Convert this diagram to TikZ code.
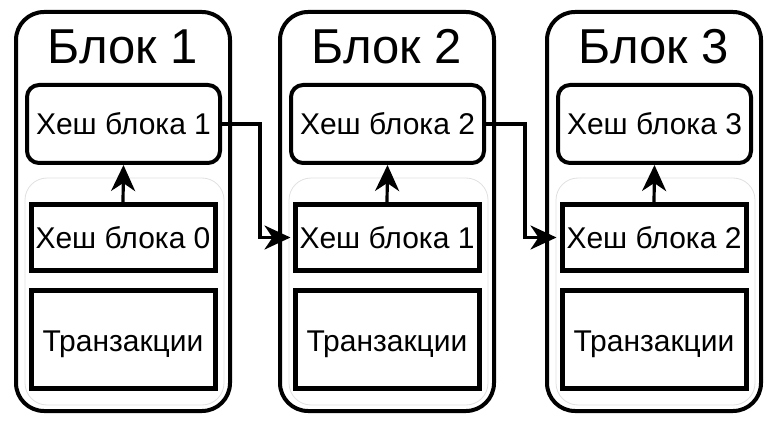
\documentclass[tikz,border=0pt]{standalone}
\usepackage{fontspec}
\setmainfont{Liberation Sans}
\usetikzlibrary{arrows.meta}
\tikzset{
  tipbig/.tip={Stealth[length=26pt,width=24pt,inset=8pt]}
}
\begin{document}
\begin{tikzpicture}[x=1pt,y=-1pt,
  outerbox/.style={draw=black, line width=4pt, rounded corners=28pt, minimum width=214pt, minimum height=399pt, inner sep=0pt},
  titletext/.style={font=\fontsize{49}{49}\selectfont, inner sep=0pt},
  hashtop/.style={draw=black, line width=4pt, rounded corners=12pt, minimum width=193pt, minimum height=78pt, inner sep=0pt, font=\fontsize{30}{30}\selectfont},
  grayarea/.style={draw=black!12, line width=0.8pt, rounded corners=22pt, minimum width=199pt, minimum height=227pt, inner sep=0pt},
  innerbox/.style={draw=black, line width=5pt, minimum width=184pt, inner sep=0pt, font=\fontsize{30}{30}\selectfont},
  link/.style={line width=3.2pt, -tipbig, sharp corners}
]
\useasboundingbox (0,0) rectangle (775,427);
\foreach \i/\dx/\prev in {1/0/0, 2/264/1, 3/531/2}{
  \begin{scope}[shift={(\dx pt,0)}]
    \node[outerbox] (outer\i) at (123,211.5) {};
    \node[grayarea] (gray\i) at (124.5,291.5) {};
    \node[titletext] (title\i) at (123,47) {Блок \i};
    \node[hashtop] (top\i) at (123.5,124) {Хеш блока \i};
    \node[innerbox, minimum height=65pt] (prev\i) at (123,237.5) {Хеш блока \prev};
    \node[innerbox, minimum height=98pt] (tx\i) at (123,339) {\raisebox{-12.5pt}[0pt][0pt]{Транзакции}};
    \draw[link] (prev\i.north) -- (top\i.south);
  \end{scope}
}
\draw[link, shorten >=2pt] (top1.east) -- ++(38,0) |- (prev2.west);
\draw[link, shorten >=3pt] (top2.east) -- ++(39,0) |- (prev3.west);
\end{tikzpicture}
\end{document}
